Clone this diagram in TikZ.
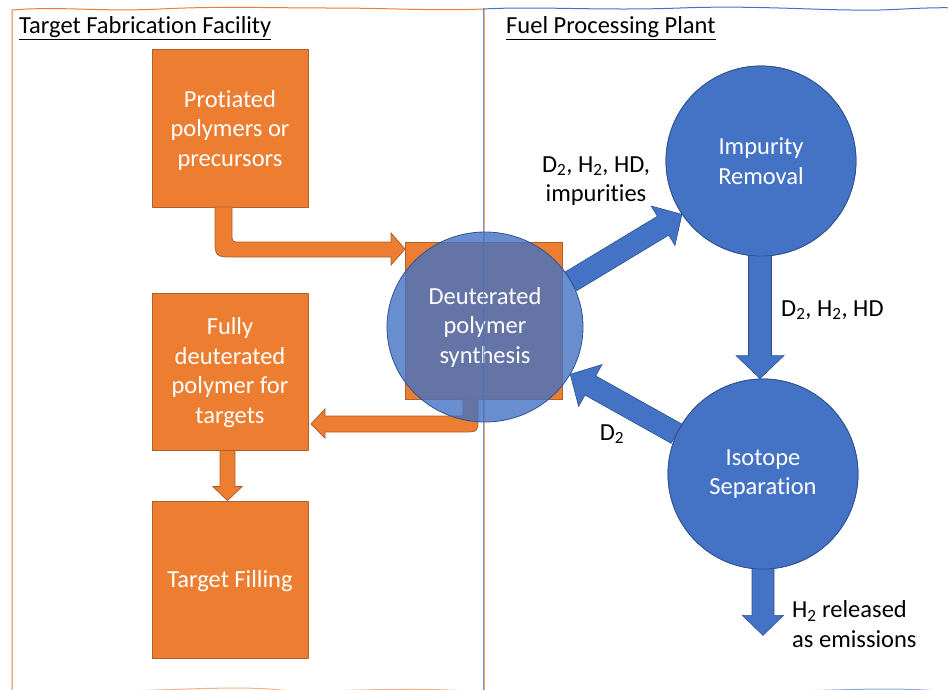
\documentclass[tikz,border=0pt]{standalone}
\usepackage{fontspec}
\setmainfont{Carlito}[Ligatures={NoCommon}]
\usetikzlibrary{calc,shapes.geometric}
\definecolor{ofill}{HTML}{ED7D31}
\definecolor{oline}{HTML}{B0602A}
\definecolor{bfill}{HTML}{4472C4}
\definecolor{bline}{HTML}{2F528F}
\newcommand{\blockarr}[6]{%
  \coordinate (ba-h) at ($(#2)!#5!(#1)$);
  \path[#6] ($(#1)!#3!90:(#2)$) -- ($(ba-h)!#3!90:(#2)$) -- ($(ba-h)!#4!90:(#2)$) -- (#2)
    -- ($(ba-h)!#4!-90:(#2)$) -- ($(ba-h)!#3!-90:(#2)$) -- ($(#1)!#3!-90:(#2)$) -- cycle;}
\tikzset{
  txt/.style={font=\fontsize{24.5}{29.5}\selectfont, align=center, inner sep=0pt},
  obox/.style={txt, rectangle, fill=ofill, draw=oline, line width=0.8pt, text=white},
  bcirc/.style={txt, circle, fill=bfill, draw=bline, line width=0.8pt, text=white, minimum size=190pt},
  oarr/.style={fill=ofill, draw=oline, line width=0.8pt, line join=miter},
  barr/.style={fill=bfill, draw=bline, line width=0.6pt, line join=miter},
  lbl/.style={txt, text=black},
  ttl/.style={font=\fontsize{24.5}{29}\selectfont, inner sep=0pt, anchor=west},
}
\begin{document}
\begin{tikzpicture}[x=1pt,y=-1pt]
\useasboundingbox (0,0) rectangle (948,689);
\clip (0,0) rectangle (948,689);
% panel frames
\draw[ofill, line width=1pt] (12,700) -- (12,10) .. controls (60,6) and (100,12) .. (160,9)
   .. controls (220,6) and (270,8) .. (330,8) .. controls (390,8) and (430,11) .. (484,9) -- (484,700);
\draw[ofill!60, line width=1pt] (12,693) .. controls (120,694) and (230,684) .. (280,690)
   .. controls (330,694) and (390,685) .. (484,692);
\draw[bfill, line width=1pt] (483,9) .. controls (540,6) and (600,11) .. (680,8)
   .. controls (760,5) and (820,11) .. (880,10) .. controls (910,9) and (930,7) .. (960,8);
\draw[bfill!60, line width=1pt] (483,692) .. controls (560,693) and (650,694) .. (760,692)
   .. controls (850,690) and (900,686) .. (960,693);
% titles
\node[ttl] (t1) at (19,28) {\underline{Target Fabrication Facility}};
\node[ttl] (t2) at (506,28) {\underline{Fuel Processing Plant}};
% orange boxes
\node[obox, minimum width=156pt, minimum height=158pt] (prot) at (230,128) {};
\node[txt, text=white] at (230,130) {Protiated\\polymers or\\precursors};
\node[obox, minimum width=156pt, minimum height=157pt] (fully) at (230,371.5) {};
\node[txt, text=white] at (230,372.5) {Fully\\deuterated\\polymer for\\targets};
\node[obox, minimum width=156pt, minimum height=157pt] (fill) at (230,579.5) {};
\node[txt, text=white] at (230,581) {Target Filling};
\node[obox, minimum width=157pt, minimum height=157pt] (synsq) at (483.5,320.5) {};
% orange arrows
\path[oarr] (215,207) -- (215,237) .. controls (215,257) .. (235,257) -- (391,257) -- (391,265)
  -- (405,249) -- (391,233) -- (391,242) -- (240,242) .. controls (232,242) .. (232,234) -- (232,207) -- cycle;
\path[oarr] (463,399) -- (478,399) -- (478,417) .. controls (478,432) .. (463,432) -- (325,432)
  -- (325,438) -- (311,424) -- (325,409) -- (325,416) -- (459,416) .. controls (463,416) .. (463,412) -- cycle;
\coordinate (g1) at ($(fully.south)+(-2.5,0)$);
\coordinate (g2) at ($(fill.north)+(-2.5,0)$);
\blockarr{g1}{g2}{7.5pt}{14.5pt}{14pt}{oarr}
% circles (nodes first for anchors)
\node[bcirc, minimum size=190pt] (imp) at (761,161) {};
\node[bcirc, minimum size=190pt] (iso) at (763,474) {};
\node[txt, ellipse, minimum width=196pt, minimum height=190pt] (syn) at (485,327) {};
% blue arrows
\blockarr{syn.28}{imp.214}{11pt}{23pt}{22pt}{barr}
\blockarr{iso.155}{syn.-29}{11pt}{24pt}{23pt}{barr}
\coordinate (c1) at ($(imp.south)+(-1,-3)$);
\coordinate (c2) at ($(iso.north)+(-3,0)$);
\blockarr{c1}{c2}{11.5pt}{24pt}{23pt}{barr}
\coordinate (d1) at ($(iso.south)+(0,-3)$);
\coordinate (d2) at ($(iso.south)+(0,66)$);
\blockarr{d1}{d2}{11pt}{20.5pt}{20pt}{barr}
% circles drawn
\node[bcirc] at (imp) {Impurity\\Removal};
\node[bcirc] at (iso) {Isotope\\Separation};
\node[txt, ellipse, minimum width=196pt, minimum height=190pt, fill=bfill, fill opacity=0.8, text opacity=1,
  draw=bline, line width=0.8pt, text=white] at (syn) {Deuterated\\polymer\\synthesis};
% divider on top
\draw[bfill, line width=0.7pt, opacity=0.7] (483,9) -- (483,700);
% labels
\node[lbl] (l1) at (596,181) {D\textsubscript{2}, H\textsubscript{2}, HD,\\impurities};
\node[lbl, anchor=west] (l2) at (781,310) {D\textsubscript{2}, H\textsubscript{2}, HD};
\node[lbl] (l3) at (612,434) {D\textsubscript{2}};
\node[lbl, anchor=west, align=left] (l4) at (792,624) {H\textsubscript{2} released\\as emissions};
\end{tikzpicture}
\end{document}
